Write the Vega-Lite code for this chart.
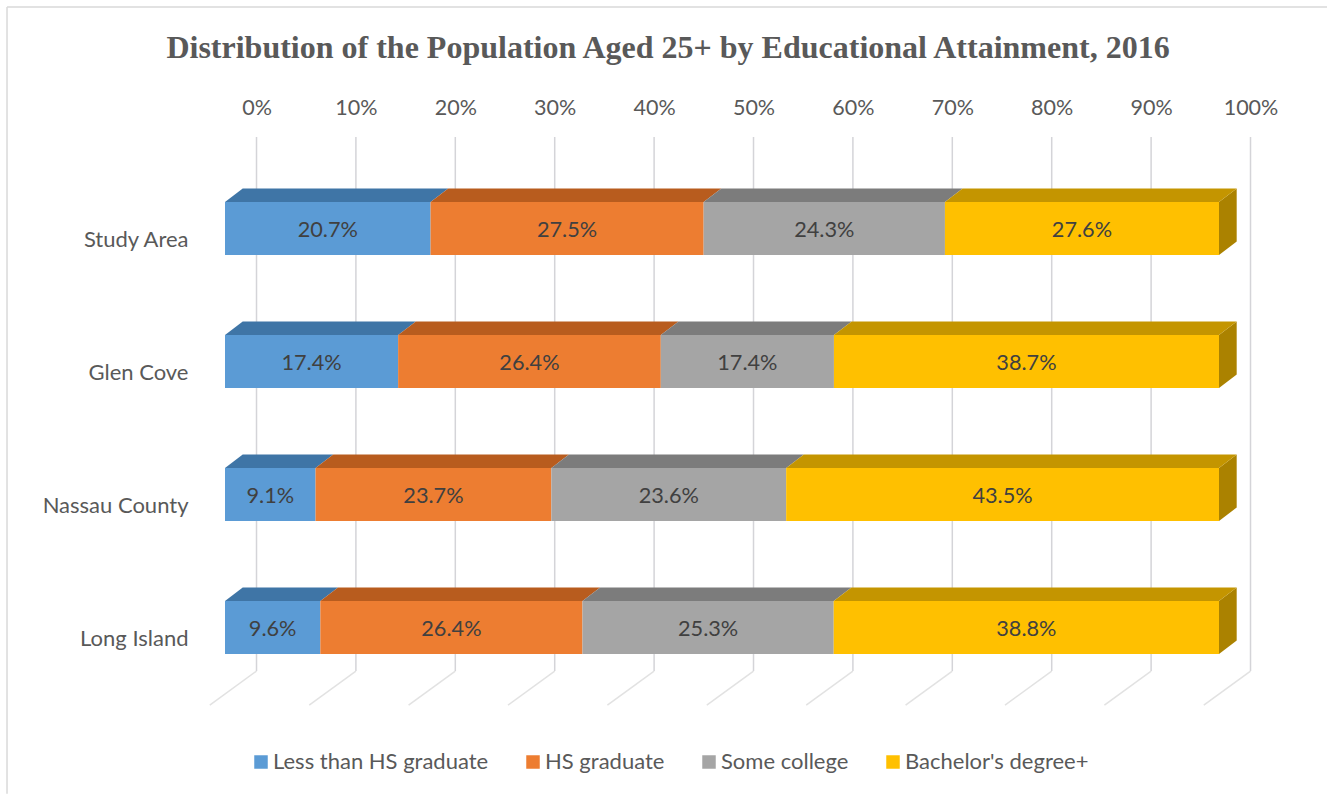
{
  "$schema": "https://vega.github.io/schema/vega-lite/v6.json",
  "width": 994,
  "height": 575,
  "autosize": "none",
  "padding": {"left": 225, "top": 135, "right": 108, "bottom": 84},
  "background": "white",
  "title": {
    "text": "Distribution of the Population Aged 25+ by Educational Attainment, 2016",
    "font": "Liberation Serif",
    "fontSize": 32,
    "fontWeight": "bold",
    "color": "#595959",
    "anchor": "middle",
    "dx": -54,
    "offset": -59
  },
  "config": {
    "view": {"stroke": null},
    "axis": {"labelFont": "Lato", "labelFontSize": 21.5, "labelColor": "#595959", "domain": false, "ticks": false, "grid": false},
    "legend": {"labelFont": "Lato", "labelFontSize": 22, "labelColor": "#595959"}
  },
  "datasets": {
    "attainment": [
      {"area": "Study Area", "level": "Less than HS graduate", "order": 1, "share": 20.7},
      {"area": "Study Area", "level": "HS graduate", "order": 2, "share": 27.5},
      {"area": "Study Area", "level": "Some college", "order": 3, "share": 24.3},
      {"area": "Study Area", "level": "Bachelor's degree+", "order": 4, "share": 27.6},
      {"area": "Glen Cove", "level": "Less than HS graduate", "order": 1, "share": 17.4},
      {"area": "Glen Cove", "level": "HS graduate", "order": 2, "share": 26.4},
      {"area": "Glen Cove", "level": "Some college", "order": 3, "share": 17.4},
      {"area": "Glen Cove", "level": "Bachelor's degree+", "order": 4, "share": 38.7},
      {"area": "Nassau County", "level": "Less than HS graduate", "order": 1, "share": 9.1},
      {"area": "Nassau County", "level": "HS graduate", "order": 2, "share": 23.7},
      {"area": "Nassau County", "level": "Some college", "order": 3, "share": 23.6},
      {"area": "Nassau County", "level": "Bachelor's degree+", "order": 4, "share": 43.5},
      {"area": "Long Island", "level": "Less than HS graduate", "order": 1, "share": 9.6},
      {"area": "Long Island", "level": "HS graduate", "order": 2, "share": 26.4},
      {"area": "Long Island", "level": "Some college", "order": 3, "share": 25.3},
      {"area": "Long Island", "level": "Bachelor's degree+", "order": 4, "share": 38.8}
    ],
    "ticks": [
      {"tick": 0}, {"tick": 0.1}, {"tick": 0.2}, {"tick": 0.3}, {"tick": 0.4}, {"tick": 0.5},
      {"tick": 0.6}, {"tick": 0.7}, {"tick": 0.8}, {"tick": 0.9}, {"tick": 1}
    ],
    "frame": [{"left": -0.2193, "right": 1.113, "top": -1.665, "bottom": 4.25}]
  },
  "resolve": {"scale": {"color": "independent"}, "legend": {"color": "independent"}},
  "layer": [
    {
      "description": "Chart frame, left and top edges",
      "data": {"name": "frame"},
      "mark": {"type": "rule", "color": "#d9d9d9", "strokeWidth": 1.5},
      "encoding": {
        "x": {
          "field": "left",
          "type": "quantitative",
          "title": null,
          "scale": {"domain": [0, 1], "nice": false, "zero": false},
          "axis": {"orient": "top", "values": [0, 0.1, 0.2, 0.3, 0.4, 0.5, 0.6, 0.7, 0.8, 0.9, 1], "format": ".0%", "labelOffset": 31.5, "labelPadding": 16, "labelFlush": false}
        },
        "y": {
          "field": "top",
          "type": "quantitative",
          "title": null,
          "scale": {"domain": [-0.703, 3.62], "reverse": true, "nice": false, "zero": false},
          "axis": {"orient": "left", "values": [0, 1, 2, 3], "labelExpr": "['Study Area','Glen Cove','Nassau County','Long Island'][datum.value]", "labelOffset": 10.5, "labelPadding": 37, "labelFontSize": 22}
        },
        "y2": {"field": "bottom"}
      }
    },
    {
      "data": {"name": "frame"},
      "mark": {"type": "rule", "color": "#d9d9d9", "strokeWidth": 1.5},
      "encoding": {
        "x": {"field": "left", "type": "quantitative", "title": null},
        "x2": {"field": "right"},
        "y": {"field": "top", "type": "quantitative", "title": null}
      }
    },
    {
      "description": "Back wall gridlines, shifted by the full chart depth",
      "data": {"name": "ticks"},
      "transform": [
        {"calculate": "datum.tick + 0.0317", "as": "wall"},
        {"calculate": "-0.688", "as": "wallTop"},
        {"calculate": "3.327", "as": "wallBottom"}
      ],
      "mark": {"type": "rule", "color": "#d4d4d8", "strokeWidth": 1.5},
      "encoding": {
        "x": {"field": "wall", "type": "quantitative", "title": null},
        "y": {"field": "wallTop", "type": "quantitative", "title": null},
        "y2": {"field": "wallBottom"}
      }
    },
    {
      "description": "Floor gridlines running from the wall towards the viewer",
      "data": {"name": "ticks"},
      "transform": [
        {"calculate": "datum.tick + 0.0317", "as": "wall"},
        {"calculate": "datum.tick - 0.0153", "as": "front"},
        {"calculate": "3.327", "as": "wallBottom"},
        {"calculate": "3.583", "as": "floorEdge"}
      ],
      "mark": {"type": "rule", "color": "#e2e2e2", "strokeWidth": 1.5},
      "encoding": {
        "x": {"field": "wall", "type": "quantitative", "title": null},
        "x2": {"field": "front"},
        "y": {"field": "wallBottom", "type": "quantitative", "title": null},
        "y2": {"field": "floorEdge"}
      }
    },
    {
      "description": "Right end cap of each bar",
      "data": {"name": "attainment"},
      "transform": [
        {"stack": "share", "groupby": ["area"], "sort": [{"field": "order"}], "offset": "normalize", "as": ["x0", "x1"]},
        {"filter": "datum.order === 4"},
        {"calculate": "indexof(['Study Area','Glen Cove','Nassau County','Long Island'], datum.area)", "as": "row"},
        {"calculate": "[0, 1]", "as": "depth"},
        {"flatten": ["depth"]},
        {"calculate": "datum.x1 + datum.depth * 0.0178", "as": "capX"},
        {"calculate": "datum.row - 0.199 - datum.depth * 0.1015", "as": "capTop"},
        {"calculate": "datum.row + 0.199 - datum.depth * 0.1015", "as": "capBottom"}
      ],
      "mark": {"type": "area", "orient": "vertical", "color": "#ab8200"},
      "encoding": {
        "x": {"field": "capX", "type": "quantitative", "title": null},
        "y": {"field": "capTop", "type": "quantitative", "title": null},
        "y2": {"field": "capBottom"},
        "detail": {"field": "area"}
      }
    },
    {
      "description": "Top faces of the stacked segments",
      "data": {"name": "attainment"},
      "transform": [
        {"stack": "share", "groupby": ["area"], "sort": [{"field": "order"}], "offset": "normalize", "as": ["x0", "x1"]},
        {"calculate": "indexof(['Study Area','Glen Cove','Nassau County','Long Island'], datum.area)", "as": "row"},
        {"calculate": "[0, 1]", "as": "depth"},
        {"flatten": ["depth"]},
        {"calculate": "datum.x0 + datum.depth * 0.0178", "as": "faceStart"},
        {"calculate": "datum.x1 + datum.depth * 0.0178", "as": "faceEnd"},
        {"calculate": "datum.row - 0.199 - datum.depth * 0.1015", "as": "faceY"}
      ],
      "mark": {"type": "area", "orient": "horizontal"},
      "encoding": {
        "x": {"field": "faceStart", "type": "quantitative", "title": null},
        "x2": {"field": "faceEnd"},
        "y": {"field": "faceY", "type": "quantitative", "title": null},
        "color": {
          "field": "level",
          "type": "nominal",
          "legend": null,
          "scale": {
            "domain": ["Less than HS graduate", "HS graduate", "Some college", "Bachelor's degree+"],
            "range": ["#3f75a6", "#b85c1e", "#7c7c7c", "#c49500"]
          }
        },
        "detail": {"field": "area"}
      }
    },
    {
      "description": "Front faces of the stacked segments",
      "data": {"name": "attainment"},
      "transform": [
        {"stack": "share", "groupby": ["area"], "sort": [{"field": "order"}], "offset": "normalize", "as": ["x0", "x1"]},
        {"calculate": "indexof(['Study Area','Glen Cove','Nassau County','Long Island'], datum.area)", "as": "row"},
        {"calculate": "datum.row - 0.199", "as": "frontTop"},
        {"calculate": "datum.row + 0.199", "as": "frontBottom"}
      ],
      "mark": {"type": "rect"},
      "encoding": {
        "x": {"field": "x0", "type": "quantitative", "title": null},
        "x2": {"field": "x1"},
        "y": {"field": "frontTop", "type": "quantitative", "title": null},
        "y2": {"field": "frontBottom"},
        "color": {
          "field": "level",
          "type": "nominal",
          "scale": {
            "domain": ["Less than HS graduate", "HS graduate", "Some college", "Bachelor's degree+"],
            "range": ["#5b9bd5", "#ed7d31", "#a5a5a5", "#ffc000"]
          },
          "legend": {
            "title": null,
            "orient": "none",
            "direction": "horizontal",
            "columns": 4,
            "legendX": 25,
            "legendY": 616,
            "symbolType": "square",
            "symbolSize": 182,
            "symbolStrokeWidth": 0,
            "columnPadding": 33,
            "labelOffset": 1,
            "labelLimit": 400
          }
        }
      }
    },
    {
      "description": "Value labels centred on the front faces",
      "data": {"name": "attainment"},
      "transform": [
        {"stack": "share", "groupby": ["area"], "sort": [{"field": "order"}], "offset": "normalize", "as": ["x0", "x1"]},
        {"calculate": "indexof(['Study Area','Glen Cove','Nassau County','Long Island'], datum.area)", "as": "row"},
        {"calculate": "(datum.x0 + datum.x1) / 2", "as": "mid"},
        {"calculate": "format(datum.share, '.1f') + '%'", "as": "label"}
      ],
      "mark": {"type": "text", "font": "Lato", "fontSize": 21.7, "color": "#404040", "align": "center", "baseline": "middle", "dy": 1},
      "encoding": {
        "x": {"field": "mid", "type": "quantitative", "title": null},
        "y": {"field": "row", "type": "quantitative", "title": null},
        "text": {"field": "label"}
      }
    }
  ]
}
